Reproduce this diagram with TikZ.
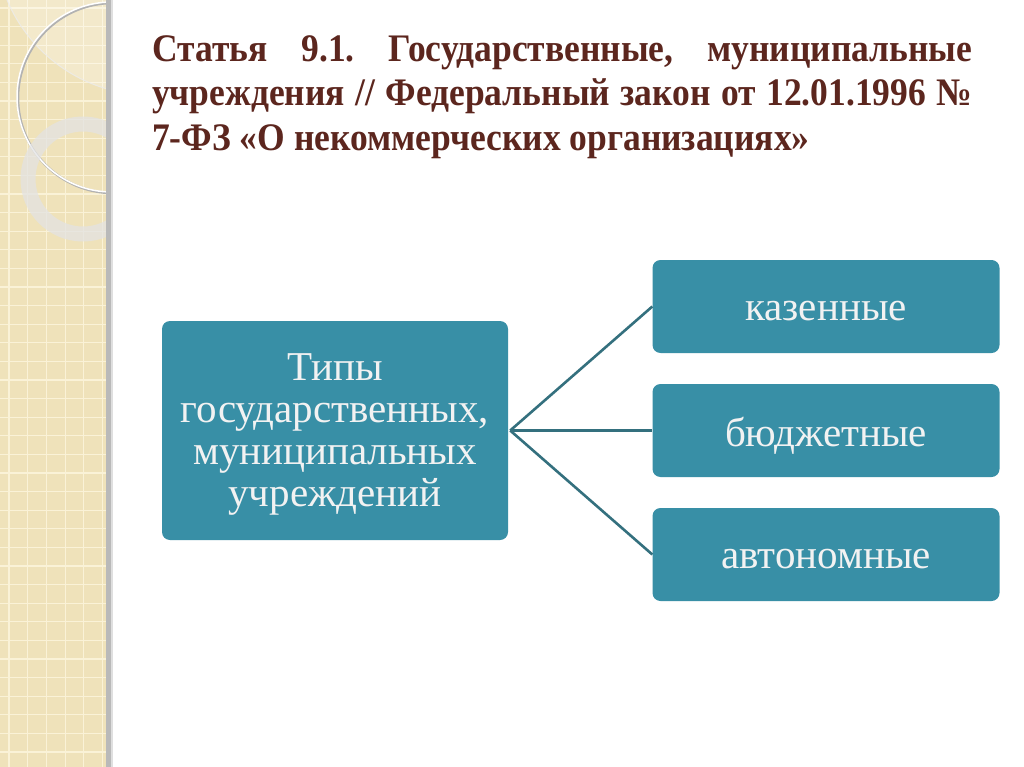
\documentclass[tikz,border=0pt]{standalone}
\usepackage{fontspec}
\setmainfont{Liberation Serif}
\newfontfamily\titlefont[FakeStretch=0.91]{Liberation Serif}
\frenchspacing
\definecolor{strip}{RGB}{239,226,186}
\definecolor{gridln}{RGB}{250,242,215}
\definecolor{teal}{RGB}{56,143,166}
\definecolor{linkc}{RGB}{52,112,126}
\definecolor{titlec}{RGB}{92,38,30}
\definecolor{boxtext}{RGB}{242,242,242}
\newcommand{\lowered}[1]{\raisebox{-5pt}[\height][\depth]{#1}}
\tikzset{
  box/.style={fill=teal, rounded corners=8pt, inner sep=0pt, text=boxtext, font=\fontsize{41}{42}\selectfont, align=center},
  link/.style={draw=linkc, line width=2.6pt},
}
\begin{document}
\begin{tikzpicture}[x=1pt,y=-1pt]
\useasboundingbox (0,0) rectangle (1024,767);
\fill[white] (0,0) rectangle (1024,767);
% decorative strip
\begin{scope}
\clip (0,0) rectangle (108,767);
\fill[strip] (0,0) rectangle (108,767);
\foreach \i in {0,...,6} {\draw[gridln, line width=1.2pt] ({9+\i*18.7},0) -- ({9+\i*18.7},767);}
\foreach \j in {0,...,41} {\draw[gridln, line width=1.2pt] (0,{8+\j*18.6}) -- (108,{8+\j*18.6});}
\fill[white, opacity=0.25] (150,-60) circle (155);
\draw[white!85!gray, line width=1pt, opacity=0.8] (150,-60) circle (155);
\draw[gray!60, line width=2.5pt] (113,98) circle (95);
\draw[white, line width=1.5pt] (112,97) circle (95);
\draw[gray!22!white, line width=15pt, opacity=0.75] (83,179) circle (55);
\end{scope}
\fill[gray!55] (106,0) rectangle (111,767);
\fill[gray!25] (111,0) rectangle (113,767);
% title
\node[anchor=north west, inner sep=0pt, text width=820pt, align=justify, text=titlec,
      font=\titlefont\bfseries\fontsize{39}{44.5}\selectfont] (title) at (152,35)
  {Статья 9.1. Государственные, муниципальные учреждения // Федеральный закон от 12.01.1996 № 7-ФЗ «О некоммерческих организациях»};
% boxes
\node[box, minimum width=346pt, minimum height=219pt] (main) at (335,430.5)
  {\lowered{\begin{tabular}{@{}c@{}}Типы\\государственных,\\муниципальных\\учреждений\end{tabular}}};
\node[box, minimum width=347pt, minimum height=93pt] (b1) at (826,306.5) {\lowered{казенные}};
\node[box, minimum width=347pt, minimum height=93pt] (b2) at (826,430.5) {\lowered{бюджетные}};
\node[box, minimum width=347pt, minimum height=93pt] (b3) at (826,554.5) {\lowered{автономные}};
\coordinate (hub) at ([xshift=2pt]main.east);
\draw[link] (hub) -- (b1.west);
\draw[link] (hub) -- (b2.west);
\draw[link] (hub) -- (b3.west);
\end{tikzpicture}
\end{document}
